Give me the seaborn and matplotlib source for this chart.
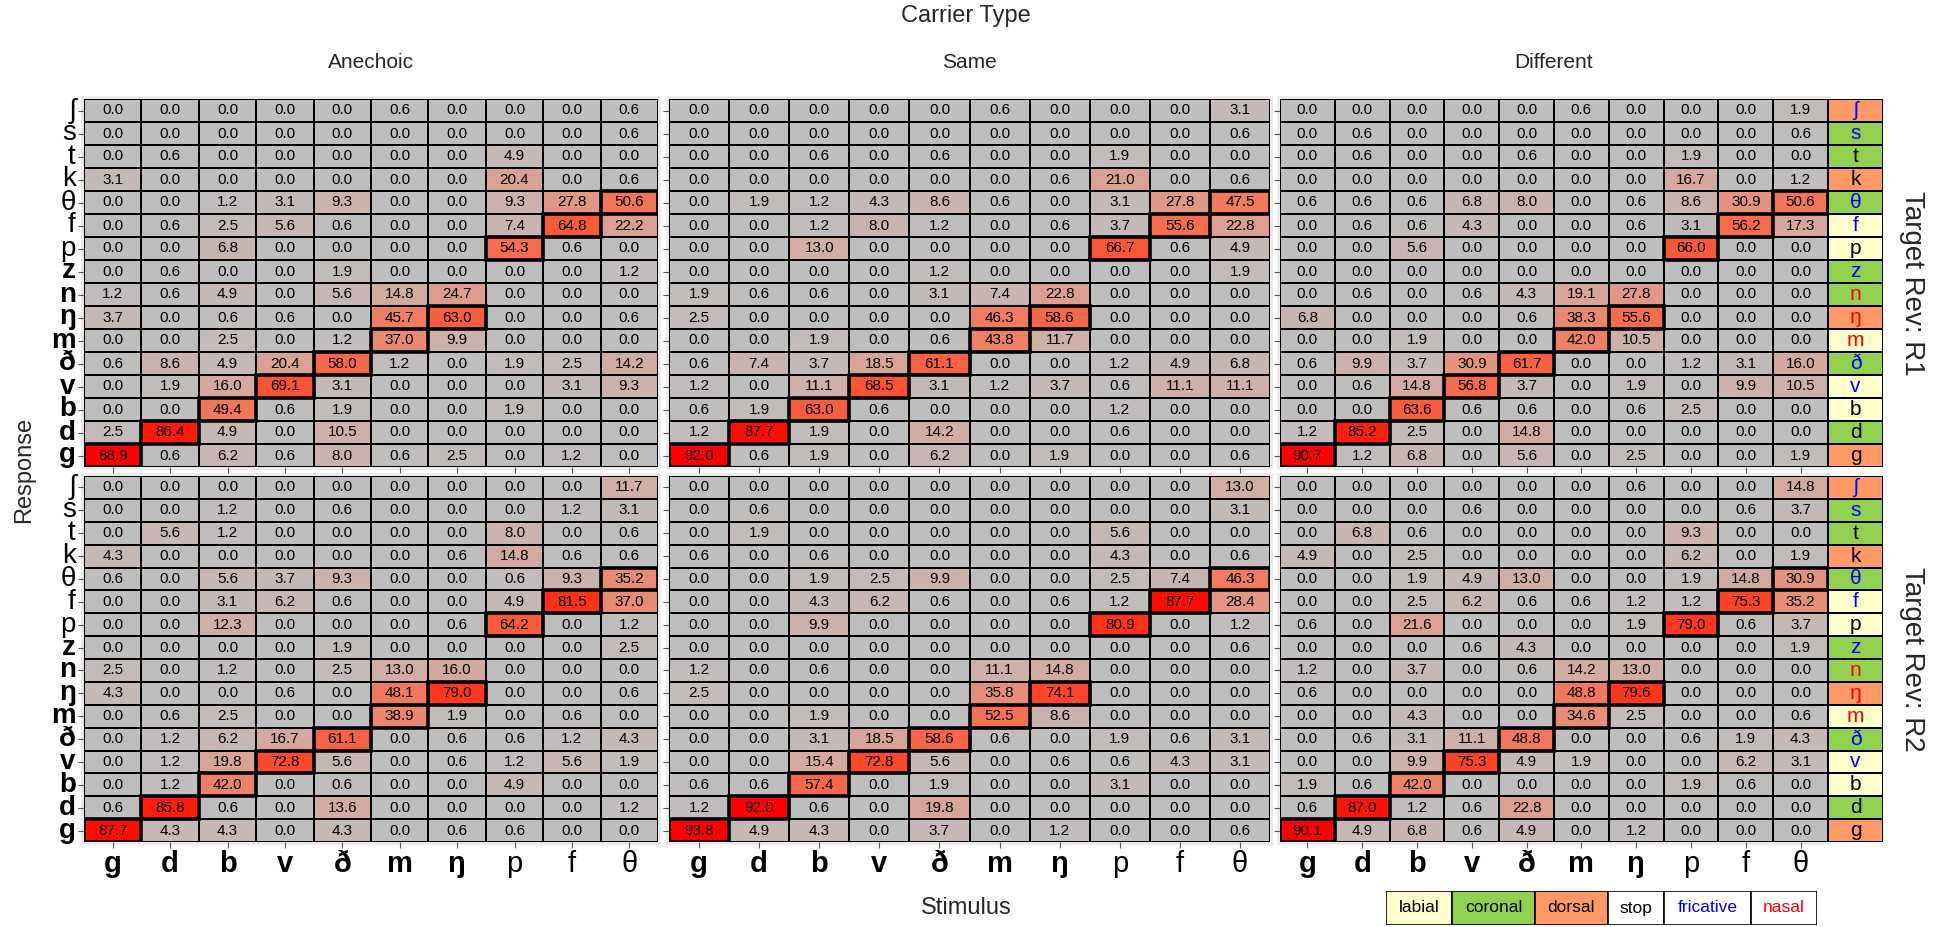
import numpy as np
import pandas as pd
import matplotlib
matplotlib.use("Agg")
import matplotlib.pyplot as plt
from matplotlib import font_manager
from matplotlib.colors import ListedColormap
from matplotlib.patches import Rectangle
import seaborn as sns

# ---------------------------------------------------------------- data
stimuli = ["g", "d", "b", "v", "ð", "m", "ŋ", "p", "f", "θ"]
responses = ["ʃ", "s", "t", "k", "θ", "f", "p", "z", "n", "ŋ", "m", "ð", "v", "b", "d", "g"]
voiced = {"g", "d", "b", "v", "ð", "m", "ŋ", "z", "n"}
carriers = ["Anechoic", "Same", "Different"]
reverbs = ["R1", "R2"]

place = {"ʃ": "dorsal", "s": "coronal", "t": "coronal", "k": "dorsal", "θ": "coronal",
         "f": "labial", "p": "labial", "z": "coronal", "n": "coronal", "ŋ": "dorsal",
         "m": "labial", "ð": "coronal", "v": "labial", "b": "labial", "d": "coronal",
         "g": "dorsal"}
manner = {"ʃ": "fricative", "s": "fricative", "t": "stop", "k": "stop", "θ": "fricative",
          "f": "fricative", "p": "stop", "z": "fricative", "n": "nasal", "ŋ": "nasal",
          "m": "nasal", "ð": "fricative", "v": "fricative", "b": "stop", "d": "stop",
          "g": "stop"}

# percent responses: rows = response (top to bottom), columns = stimulus
anechoic_r1 = [
    [0.0, 0.0, 0.0, 0.0, 0.0, 0.6, 0.0, 0.0, 0.0, 0.6],
    [0.0, 0.0, 0.0, 0.0, 0.0, 0.0, 0.0, 0.0, 0.0, 0.6],
    [0.0, 0.6, 0.0, 0.0, 0.0, 0.0, 0.0, 4.9, 0.0, 0.0],
    [3.1, 0.0, 0.0, 0.0, 0.0, 0.0, 0.0, 20.4, 0.0, 0.6],
    [0.0, 0.0, 1.2, 3.1, 9.3, 0.0, 0.0, 9.3, 27.8, 50.6],
    [0.0, 0.6, 2.5, 5.6, 0.6, 0.0, 0.0, 7.4, 64.8, 22.2],
    [0.0, 0.0, 6.8, 0.0, 0.0, 0.0, 0.0, 54.3, 0.6, 0.0],
    [0.0, 0.6, 0.0, 0.0, 1.9, 0.0, 0.0, 0.0, 0.0, 1.2],
    [1.2, 0.6, 4.9, 0.0, 5.6, 14.8, 24.7, 0.0, 0.0, 0.0],
    [3.7, 0.0, 0.6, 0.6, 0.0, 45.7, 63.0, 0.0, 0.0, 0.6],
    [0.0, 0.0, 2.5, 0.0, 1.2, 37.0, 9.9, 0.0, 0.0, 0.0],
    [0.6, 8.6, 4.9, 20.4, 58.0, 1.2, 0.0, 1.9, 2.5, 14.2],
    [0.0, 1.9, 16.0, 69.1, 3.1, 0.0, 0.0, 0.0, 3.1, 9.3],
    [0.0, 0.0, 49.4, 0.6, 1.9, 0.0, 0.0, 1.9, 0.0, 0.0],
    [2.5, 86.4, 4.9, 0.0, 10.5, 0.0, 0.0, 0.0, 0.0, 0.0],
    [88.9, 0.6, 6.2, 0.6, 8.0, 0.6, 2.5, 0.0, 1.2, 0.0],
]
same_r1 = [
    [0.0, 0.0, 0.0, 0.0, 0.0, 0.6, 0.0, 0.0, 0.0, 3.1],
    [0.0, 0.0, 0.0, 0.0, 0.0, 0.0, 0.0, 0.0, 0.0, 0.6],
    [0.0, 0.0, 0.6, 0.0, 0.6, 0.0, 0.0, 1.9, 0.0, 0.0],
    [0.0, 0.0, 0.0, 0.0, 0.0, 0.0, 0.6, 21.0, 0.0, 0.6],
    [0.0, 1.9, 1.2, 4.3, 8.6, 0.6, 0.0, 3.1, 27.8, 47.5],
    [0.0, 0.0, 1.2, 8.0, 1.2, 0.0, 0.6, 3.7, 55.6, 22.8],
    [0.0, 0.0, 13.0, 0.0, 0.0, 0.0, 0.0, 66.7, 0.6, 4.9],
    [0.0, 0.0, 0.0, 0.0, 1.2, 0.0, 0.0, 0.0, 0.0, 1.9],
    [1.9, 0.6, 0.6, 0.0, 3.1, 7.4, 22.8, 0.0, 0.0, 0.0],
    [2.5, 0.0, 0.0, 0.0, 0.0, 46.3, 58.6, 0.0, 0.0, 0.0],
    [0.0, 0.0, 1.9, 0.0, 0.6, 43.8, 11.7, 0.0, 0.0, 0.0],
    [0.6, 7.4, 3.7, 18.5, 61.1, 0.0, 0.0, 1.2, 4.9, 6.8],
    [1.2, 0.0, 11.1, 68.5, 3.1, 1.2, 3.7, 0.6, 11.1, 11.1],
    [0.6, 1.9, 63.0, 0.6, 0.0, 0.0, 0.0, 1.2, 0.0, 0.0],
    [1.2, 87.7, 1.9, 0.0, 14.2, 0.0, 0.0, 0.6, 0.0, 0.0],
    [92.0, 0.6, 1.9, 0.0, 6.2, 0.0, 1.9, 0.0, 0.0, 0.6],
]
different_r1 = [
    [0.0, 0.0, 0.0, 0.0, 0.0, 0.6, 0.0, 0.0, 0.0, 1.9],
    [0.0, 0.6, 0.0, 0.0, 0.0, 0.0, 0.0, 0.0, 0.0, 0.6],
    [0.0, 0.6, 0.0, 0.0, 0.6, 0.0, 0.0, 1.9, 0.0, 0.0],
    [0.0, 0.0, 0.0, 0.0, 0.0, 0.0, 0.0, 16.7, 0.0, 1.2],
    [0.6, 0.6, 0.6, 6.8, 8.0, 0.0, 0.6, 8.6, 30.9, 50.6],
    [0.0, 0.6, 0.6, 4.3, 0.0, 0.0, 0.6, 3.1, 56.2, 17.3],
    [0.0, 0.0, 5.6, 0.0, 0.0, 0.0, 0.0, 66.0, 0.0, 0.0],
    [0.0, 0.0, 0.0, 0.0, 0.0, 0.0, 0.0, 0.0, 0.0, 0.0],
    [0.0, 0.6, 0.0, 0.6, 4.3, 19.1, 27.8, 0.0, 0.0, 0.0],
    [6.8, 0.0, 0.0, 0.0, 0.6, 38.3, 55.6, 0.0, 0.0, 0.0],
    [0.0, 0.0, 1.9, 0.0, 0.0, 42.0, 10.5, 0.0, 0.0, 0.0],
    [0.6, 9.9, 3.7, 30.9, 61.7, 0.0, 0.0, 1.2, 3.1, 16.0],
    [0.0, 0.6, 14.8, 56.8, 3.7, 0.0, 1.9, 0.0, 9.9, 10.5],
    [0.0, 0.0, 63.6, 0.6, 0.6, 0.0, 0.6, 2.5, 0.0, 0.0],
    [1.2, 85.2, 2.5, 0.0, 14.8, 0.0, 0.0, 0.0, 0.0, 0.0],
    [90.7, 1.2, 6.8, 0.0, 5.6, 0.0, 2.5, 0.0, 0.0, 1.9],
]
anechoic_r2 = [
    [0.0, 0.0, 0.0, 0.0, 0.0, 0.0, 0.0, 0.0, 0.0, 11.7],
    [0.0, 0.0, 1.2, 0.0, 0.6, 0.0, 0.0, 0.0, 1.2, 3.1],
    [0.0, 5.6, 1.2, 0.0, 0.0, 0.0, 0.0, 8.0, 0.0, 0.6],
    [4.3, 0.0, 0.0, 0.0, 0.0, 0.0, 0.6, 14.8, 0.6, 0.6],
    [0.6, 0.0, 5.6, 3.7, 9.3, 0.0, 0.0, 0.6, 9.3, 35.2],
    [0.0, 0.0, 3.1, 6.2, 0.6, 0.0, 0.0, 4.9, 81.5, 37.0],
    [0.0, 0.0, 12.3, 0.0, 0.0, 0.0, 0.6, 64.2, 0.0, 1.2],
    [0.0, 0.0, 0.0, 0.0, 1.9, 0.0, 0.0, 0.0, 0.0, 2.5],
    [2.5, 0.0, 1.2, 0.0, 2.5, 13.0, 16.0, 0.0, 0.0, 0.0],
    [4.3, 0.0, 0.0, 0.6, 0.0, 48.1, 79.0, 0.0, 0.0, 0.6],
    [0.0, 0.6, 2.5, 0.0, 0.0, 38.9, 1.9, 0.0, 0.6, 0.0],
    [0.0, 1.2, 6.2, 16.7, 61.1, 0.0, 0.6, 0.6, 1.2, 4.3],
    [0.0, 1.2, 19.8, 72.8, 5.6, 0.0, 0.6, 1.2, 5.6, 1.9],
    [0.0, 1.2, 42.0, 0.0, 0.6, 0.0, 0.0, 4.9, 0.0, 0.0],
    [0.6, 85.8, 0.6, 0.0, 13.6, 0.0, 0.0, 0.0, 0.0, 1.2],
    [87.7, 4.3, 4.3, 0.0, 4.3, 0.0, 0.6, 0.6, 0.0, 0.0],
]
same_r2 = [
    [0.0, 0.0, 0.0, 0.0, 0.0, 0.0, 0.0, 0.0, 0.0, 13.0],
    [0.0, 0.6, 0.0, 0.0, 0.0, 0.0, 0.0, 0.0, 0.0, 3.1],
    [0.0, 1.9, 0.0, 0.0, 0.0, 0.0, 0.0, 5.6, 0.0, 0.0],
    [0.6, 0.0, 0.6, 0.0, 0.0, 0.0, 0.0, 4.3, 0.0, 0.6],
    [0.0, 0.0, 1.9, 2.5, 9.9, 0.0, 0.0, 2.5, 7.4, 46.3],
    [0.0, 0.0, 4.3, 6.2, 0.6, 0.0, 0.6, 1.2, 87.7, 28.4],
    [0.0, 0.0, 9.9, 0.0, 0.0, 0.0, 0.0, 80.9, 0.0, 1.2],
    [0.0, 0.0, 0.0, 0.0, 0.0, 0.0, 0.0, 0.0, 0.0, 0.6],
    [1.2, 0.0, 0.6, 0.0, 0.0, 11.1, 14.8, 0.0, 0.0, 0.0],
    [2.5, 0.0, 0.0, 0.0, 0.0, 35.8, 74.1, 0.0, 0.0, 0.0],
    [0.0, 0.0, 1.9, 0.0, 0.0, 52.5, 8.6, 0.0, 0.0, 0.0],
    [0.0, 0.0, 3.1, 18.5, 58.6, 0.6, 0.0, 1.9, 0.6, 3.1],
    [0.0, 0.0, 15.4, 72.8, 5.6, 0.0, 0.6, 0.6, 4.3, 3.1],
    [0.6, 0.6, 57.4, 0.0, 1.9, 0.0, 0.0, 3.1, 0.0, 0.0],
    [1.2, 92.0, 0.6, 0.0, 19.8, 0.0, 0.0, 0.0, 0.0, 0.0],
    [93.8, 4.9, 4.3, 0.0, 3.7, 0.0, 1.2, 0.0, 0.0, 0.6],
]
different_r2 = [
    [0.0, 0.0, 0.0, 0.0, 0.0, 0.0, 0.6, 0.0, 0.0, 14.8],
    [0.0, 0.0, 0.0, 0.6, 0.0, 0.0, 0.0, 0.0, 0.6, 3.7],
    [0.0, 6.8, 0.6, 0.0, 0.0, 0.0, 0.0, 9.3, 0.0, 0.0],
    [4.9, 0.0, 2.5, 0.0, 0.0, 0.0, 0.0, 6.2, 0.0, 1.9],
    [0.0, 0.0, 1.9, 4.9, 13.0, 0.0, 0.0, 1.9, 14.8, 30.9],
    [0.0, 0.0, 2.5, 6.2, 0.6, 0.6, 1.2, 1.2, 75.3, 35.2],
    [0.6, 0.0, 21.6, 0.0, 0.0, 0.0, 1.9, 79.0, 0.6, 3.7],
    [0.0, 0.0, 0.0, 0.6, 4.3, 0.0, 0.0, 0.0, 0.0, 1.9],
    [1.2, 0.0, 3.7, 0.0, 0.6, 14.2, 13.0, 0.0, 0.0, 0.0],
    [0.6, 0.0, 0.0, 0.0, 0.0, 48.8, 79.6, 0.0, 0.0, 0.0],
    [0.0, 0.0, 4.3, 0.0, 0.0, 34.6, 2.5, 0.0, 0.0, 0.6],
    [0.0, 0.6, 3.1, 11.1, 48.8, 0.0, 0.0, 0.6, 1.9, 4.3],
    [0.0, 0.0, 9.9, 75.3, 4.9, 1.9, 0.0, 0.0, 6.2, 3.1],
    [1.9, 0.6, 42.0, 0.0, 0.0, 0.0, 0.0, 1.9, 0.6, 0.0],
    [0.6, 87.0, 1.2, 0.6, 22.8, 0.0, 0.0, 0.0, 0.0, 0.0],
    [90.1, 4.9, 6.8, 0.6, 4.9, 0.0, 1.2, 0.0, 0.0, 0.0],
]

legend_labels = ["labial", "coronal", "dorsal", "stop", "fricative", "nasal"]

# ---------------------------------------------------------------- style
sns.set_theme(style="white")
available = set(font_manager.get_font_names())
families = [f for f in ["Liberation Sans Narrow", "Liberation Sans", "DejaVu Sans"] if f in available]
plt.rcParams["font.family"] = families

place_colors = {"labial": "#FFFFCC", "coronal": "#92D050", "dorsal": "#FF9966"}
manner_colors = {"stop": "black", "fricative": "#0000FF", "nasal": "#FF0000"}


def lab_gradient(c0, c1, n=256):
    """Grey -> red gradient interpolated in CIE Lab (like ggplot's scale_fill_gradient)."""
    def to_lin(c):
        c = np.asarray(c, float)
        return np.where(c <= 0.04045, c / 12.92, ((c + 0.055) / 1.055) ** 2.4)

    def to_srgb(c):
        c = np.clip(c, 0, 1)
        return np.where(c <= 0.0031308, 12.92 * c, 1.055 * c ** (1 / 2.4) - 0.055)

    M = np.array([[0.4124, 0.3576, 0.1805], [0.2126, 0.7152, 0.0722], [0.0193, 0.1192, 0.9505]])
    Minv = np.linalg.inv(M)
    wp = np.array([0.95047, 1.0, 1.08883])

    def f(t):
        return np.where(t > (6 / 29) ** 3, np.cbrt(t), t / (3 * (6 / 29) ** 2) + 4 / 29)

    def finv(t):
        return np.where(t > 6 / 29, t ** 3, 3 * (6 / 29) ** 2 * (t - 4 / 29))

    def rgb2lab(rgb):
        xyz = M @ to_lin(rgb) / wp
        fx, fy, fz = f(xyz)
        return np.array([116 * fy - 16, 500 * (fx - fy), 200 * (fy - fz)])

    def lab2rgb(lab):
        L, a, b = lab
        fy = (L + 16) / 116
        xyz = np.array([finv(fy + a / 500), finv(fy), finv(fy - b / 200)]) * wp
        return to_srgb(Minv @ xyz)

    l0, l1 = rgb2lab(c0), rgb2lab(c1)
    return ListedColormap([lab2rgb(l0 + (l1 - l0) * t) for t in np.linspace(0, 1, n)])


cmap = lab_gradient([190 / 255] * 3, [1.0, 0.0, 0.0])
VMAX = 89.0

W, H = 1943, 927
fig = plt.figure(figsize=(W / 100, H / 100), dpi=100)


def px_axes(x0, y0, x1, y1):
    return fig.add_axes([x0 / W, 1 - y1 / H, (x1 - x0) / W, (y1 - y0) / H])


col_px = [(84, 658), (669, 1270), (1280, 1828)]
row_px = [(99, 467), (476, 842)]
strip_px = (1828, 1883)

panels = {
    ("Anechoic", "R1"): anechoic_r1, ("Same", "R1"): same_r1, ("Different", "R1"): different_r1,
    ("Anechoic", "R2"): anechoic_r2, ("Same", "R2"): same_r2, ("Different", "R2"): different_r2,
}

X_FS, Y_FS = 21, 20
for ri, rev in enumerate(reverbs):
    for ci, car in enumerate(carriers):
        x0, x1 = col_px[ci]
        y0, y1 = row_px[ri]
        # light panel frame behind the cells
        fig.patches.append(Rectangle(((x0 - 3) / W, 1 - (y1 + 3) / H), (x1 - x0 + 6) / W,
                                     (y1 - y0 + 6) / H, transform=fig.transFigure,
                                     facecolor="#EBEBEB", edgecolor="none", zorder=-5))
        ax = px_axes(x0, y0, x1, y1)
        ax.set_zorder(2)
        df = pd.DataFrame(panels[(car, rev)], index=responses, columns=stimuli)
        sns.heatmap(df, ax=ax, cmap=cmap, vmin=0, vmax=VMAX, cbar=False,
                    annot=True, fmt=".1f",
                    annot_kws={"size": 11, "color": "black"},
                    linewidths=1.1, linecolor="black")
        # outline the correct-response cells
        for j, s in enumerate(stimuli):
            i = responses.index(s)
            ax.add_patch(Rectangle((j, i), 1, 1, fill=False, edgecolor="black", lw=2.6, zorder=3))
        ax.tick_params(axis="both", which="both", length=4, width=0.8, color="#555555",
                       left=True, bottom=True, pad=2)
        ax.set_xlabel("")
        ax.set_ylabel("")
        if ci == 0:
            ax.set_yticks(np.arange(len(responses)) + 0.5)
            ax.set_yticklabels(responses, rotation=0)
            for lab in ax.get_yticklabels():
                lab.set_fontsize(Y_FS)
                lab.set_fontweight("bold" if lab.get_text() in voiced else "normal")
                lab.set_color("black")
        else:
            ax.set_yticklabels([])
        if ri == 1:
            ax.set_xticks(np.arange(len(stimuli)) + 0.5)
            ax.set_xticklabels(stimuli, rotation=0)
            for lab in ax.get_xticklabels():
                lab.set_fontsize(X_FS)
                lab.set_fontweight("bold" if lab.get_text() in voiced else "normal")
                lab.set_color("black")
        else:
            ax.set_xticklabels([])
        if ri == 0:
            ax.set_title(car, fontsize=15, pad=22)

    # place / manner key column beside the last panel
    sax = px_axes(strip_px[0], row_px[ri][0], strip_px[1], row_px[ri][1])
    sax.set_zorder(2)
    codes = pd.DataFrame([[["labial", "coronal", "dorsal"].index(place[r])] for r in responses],
                         index=responses)
    sns.heatmap(codes, ax=sax, cmap=ListedColormap([place_colors["labial"], place_colors["coronal"],
                                                    place_colors["dorsal"]]),
                vmin=-0.5, vmax=2.5, cbar=False, annot=np.array([[r] for r in responses]), fmt="",
                annot_kws={"size": 15}, linewidths=1.1, linecolor="black",
                xticklabels=False, yticklabels=False)
    for t, r in zip(sax.texts, responses):
        t.set_color(manner_colors[manner[r]])
    sax.tick_params(left=False, bottom=False)
    sax.set_xlabel("")
    sax.set_ylabel("")
    yc = (row_px[ri][0] + row_px[ri][1]) / 2
    fig.text(1912 / W, 1 - yc / H, f"Target Rev: {rev}", rotation=270, fontsize=20,
             ha="center", va="center")

fig.text(966 / W, 1 - 16 / H, "Carrier Type", fontsize=17, ha="center", va="center")
fig.text(966 / W, 1 - 908 / H, "Stimulus", fontsize=17, ha="center", va="center")
fig.text(24 / W, 1 - 470 / H, "Response", fontsize=17, rotation=90, ha="center", va="center")

# legend: place fills and manner text colours
lax = px_axes(1386, 891, 1817, 925)
leg_widths = [66, 83, 73, 56, 87, 66]
edges = np.concatenate([[0], np.cumsum(leg_widths)])
leg_fill = [place_colors["labial"], place_colors["coronal"], place_colors["dorsal"],
            "white", "white", "white"]
leg_text = ["black", "black", "black", manner_colors["stop"], manner_colors["fricative"],
            manner_colors["nasal"]]
for k, lab in enumerate(legend_labels):
    lax.add_patch(Rectangle((edges[k], 0), leg_widths[k], 1, facecolor=leg_fill[k],
                            edgecolor="black", lw=1.2))
    lax.text((edges[k] + edges[k + 1]) / 2, 0.5, lab, color=leg_text[k], fontsize=12.5,
             ha="center", va="center")
lax.set_xlim(0, edges[-1])
lax.set_ylim(0, 1)
lax.axis("off")

fig.savefig("out.png", dpi=100)
